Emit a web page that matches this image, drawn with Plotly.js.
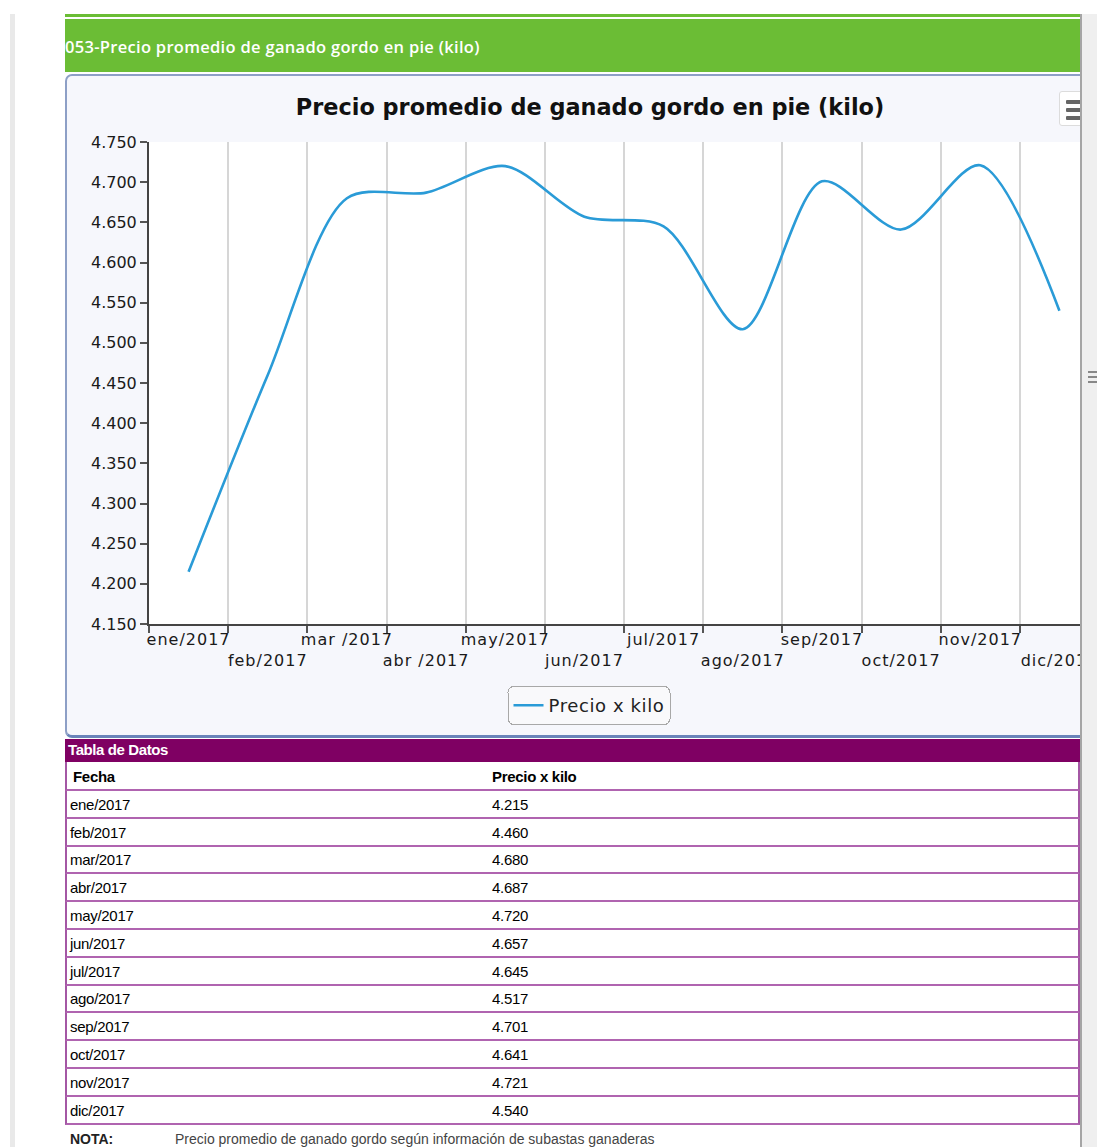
<!DOCTYPE html>
<html>
<head>
<meta charset="utf-8">
<script src="https://cdn.plot.ly/plotly-3.0.1.min.js"></script>
<style>
html,body{margin:0;padding:0;background:#fff;width:1097px;height:1147px;overflow:hidden;}
#page{position:absolute;left:0;top:0;width:1080px;height:1147px;overflow:hidden;}
#leftbar{position:absolute;left:10px;top:14px;width:5px;height:1133px;background:#e9e9e9;}
#g1{position:absolute;left:65px;top:14px;width:1015px;height:3px;background:#6bbd35;}
#g2{position:absolute;left:65px;top:19px;width:1015px;height:53px;background:#6bbd35;}
#g2 span{position:absolute;left:0;top:0;line-height:55px;color:#fff;font-family:"Open Sans",sans-serif;font-weight:600;font-size:16.5px;white-space:nowrap;letter-spacing:0.3px;}
#box{position:absolute;left:65px;top:74px;width:1060px;height:659px;border:2px solid #8d9fc6;border-bottom:3px solid #6a84ba;border-radius:7px;background:#f6f7fc;}
#chart{position:absolute;left:66px;top:75px;width:1041px;height:662px;}
#menu{position:absolute;left:1059px;top:91px;width:32px;height:33px;background:#fff;border:1px solid #dcdcdc;border-radius:3px;}
#menu i{position:absolute;left:6px;width:18px;height:4px;background:#666;border-radius:1px;}
#tblhead{position:absolute;left:65px;top:739px;width:1015px;height:23px;background:#7f0063;color:#fff;font-family:"Liberation Sans",Arial,sans-serif;font-weight:bold;font-size:15px;line-height:22px;letter-spacing:-0.4px;}
#tblhead span{padding-left:3px;}
#tbl{position:absolute;left:65px;top:762px;width:1015px;}
.row{position:relative;box-sizing:border-box;height:27.8px;border-left:2px solid #a457a4;border-right:2px solid #a457a4;border-bottom:2px solid #b064b0;font-family:"Liberation Sans",Arial,sans-serif;font-size:15px;color:#000;letter-spacing:-0.3px;}
.row.hd{height:29px;font-weight:bold;}
.row span{position:absolute;top:50%;transform:translateY(-50%);white-space:nowrap;}
.row .c1{left:3px;}
.row .c2{left:425px;}
.row.hd .c1{left:6px;}
#nota{position:absolute;left:70px;top:1131px;font-family:"Liberation Sans",Arial,sans-serif;font-size:14px;color:#222;white-space:nowrap;}
#nota b{display:inline-block;width:105px;}
#nota span{color:#444;}
#sline{position:absolute;left:1080px;top:14px;width:2px;height:1133px;background:#a5a5a5;}
#sbar{position:absolute;left:1082px;top:14px;width:15px;height:1133px;background:#efefef;}
#sbar i{position:absolute;left:6px;width:9px;height:2px;background:#888;}
.xtick text{letter-spacing:1px;}
.legendtext{letter-spacing:0.6px;}
.legend .bg{rx:6px;ry:6px;}
</style>
</head>
<body>
<div id="page">
  <div id="leftbar"></div>
  <div id="g1"></div>
  <div id="g2"><span id="greentitle"></span></div>
  <div id="box"></div>
  <div id="chart"></div>
  <div id="menu"><i style="top:8px"></i><i style="top:16px"></i><i style="top:24px"></i></div>
  <div id="tblhead"><span id="tbltitle"></span></div>
  <div id="tbl"></div>
  <div id="nota"><b id="notalabel"></b><span id="notatext"></span></div>
</div>
<div id="sline"></div>
<div id="sbar"><i style="top:357px"></i><i style="top:362px"></i><i style="top:367px"></i></div>
<script>
// ---- data ----
const months = ['ene/2017','feb/2017','mar/2017','abr/2017','may/2017','jun/2017','jul/2017','ago/2017','sep/2017','oct/2017','nov/2017','dic/2017'];
const axisLabels = ['ene/2017','feb/2017','mar /2017','abr /2017','may/2017','jun/2017','jul/2017','ago/2017','sep/2017','oct/2017','nov/2017','dic/2017'];
const precio = [4.215, 4.460, 4.680, 4.687, 4.720, 4.657, 4.645, 4.517, 4.701, 4.641, 4.721, 4.540];
const seriesName = 'Precio x kilo';
const chartTitle = 'Precio promedio de ganado gordo en pie (kilo)';
const headerTitle = '053-Precio promedio de ganado gordo en pie (kilo)';
const tableTitle = 'Tabla de Datos';
const tableCols = ['Fecha', 'Precio x kilo'];
const notaLabel = 'NOTA:';
const notaText = 'Precio promedio de ganado gordo según información de subastas ganaderas';
const yRange = [4.15, 4.75];
const yStep = 0.05;

// ---- page texts ----
document.getElementById('greentitle').textContent = headerTitle;
document.getElementById('tbltitle').textContent = tableTitle;
document.getElementById('notalabel').textContent = notaLabel;
document.getElementById('notatext').textContent = notaText;

const tbl = document.getElementById('tbl');
function addRow(a, b, cls) {
  const r = document.createElement('div');
  r.className = 'row' + (cls ? ' ' + cls : '');
  const s1 = document.createElement('span'); s1.className = 'c1'; s1.textContent = a;
  const s2 = document.createElement('span'); s2.className = 'c2'; s2.textContent = b;
  r.appendChild(s1); r.appendChild(s2); tbl.appendChild(r);
}
addRow(tableCols[0], tableCols[1], 'hd');
months.forEach((m, i) => addRow(m, precio[i].toFixed(3)));

// ---- chart ----
const tickText = axisLabels.map((t, i) => (i % 2 === 1 ? '<br>' + t : t));

const trace = {
  type: 'scatter',
  mode: 'lines',
  x: months,
  y: precio,
  name: seriesName,
  line: {color: '#2a9bd7', width: 2.6, shape: 'spline', smoothing: 0.85},
  hoverinfo: 'x+y'
};

const fontFam = 'DejaVu Sans, Verdana, sans-serif';
const layout = {
  width: 1041,
  height: 662,
  margin: {l: 83, r: 8, t: 67, b: 113, autoexpand: false},
  paper_bgcolor: 'rgba(0,0,0,0)',
  plot_bgcolor: '#ffffff',
  title: {
    text: chartTitle,
    xref: 'container', x: 524 / 1041, xanchor: 'center',
    yref: 'container', y: 1 - 32 / 662, yanchor: 'middle',
    font: {family: fontFam, size: 22.4, color: '#111', weight: 'bold'}
  },
  xaxis: {
    type: 'category',
    range: [-0.5, months.length - 0.5],
    tickmode: 'array',
    tickvals: months,
    ticktext: tickText,
    tickangle: 0,
    tickson: 'boundaries',
    ticks: 'outside', ticklen: 7, tickwidth: 1.5, tickcolor: '#555',
    showline: true, linecolor: '#444', linewidth: 2,
    showgrid: true, gridcolor: '#d6d6d6', gridwidth: 1.5,
    zeroline: false,
    tickfont: {family: fontFam, size: 16, color: '#1a1a1a'},
    fixedrange: true
  },
  yaxis: {
    range: yRange,
    tick0: yRange[0], dtick: yStep,
    tickformat: '.3f',
    ticks: 'outside', ticklen: 7, tickwidth: 1.5, tickcolor: '#555',
    showline: true, linecolor: '#444', linewidth: 2,
    showgrid: false, zeroline: false,
    tickfont: {family: fontFam, size: 16, color: '#1a1a1a'},
    fixedrange: true
  },
  showlegend: true,
  legend: {
    orientation: 'h',
    x: (589 - 149) / 950, xanchor: 'center',
    y: -(686 - 624) / 482, yanchor: 'top',
    bgcolor: '#f9f9fb', bordercolor: '#a8a8a8', borderwidth: 1,
    font: {family: fontFam, size: 18, color: '#222'}
  }
};

Plotly.newPlot('chart', [trace], layout, {displayModeBar: false, responsive: false});
</script>
</body>
</html>
